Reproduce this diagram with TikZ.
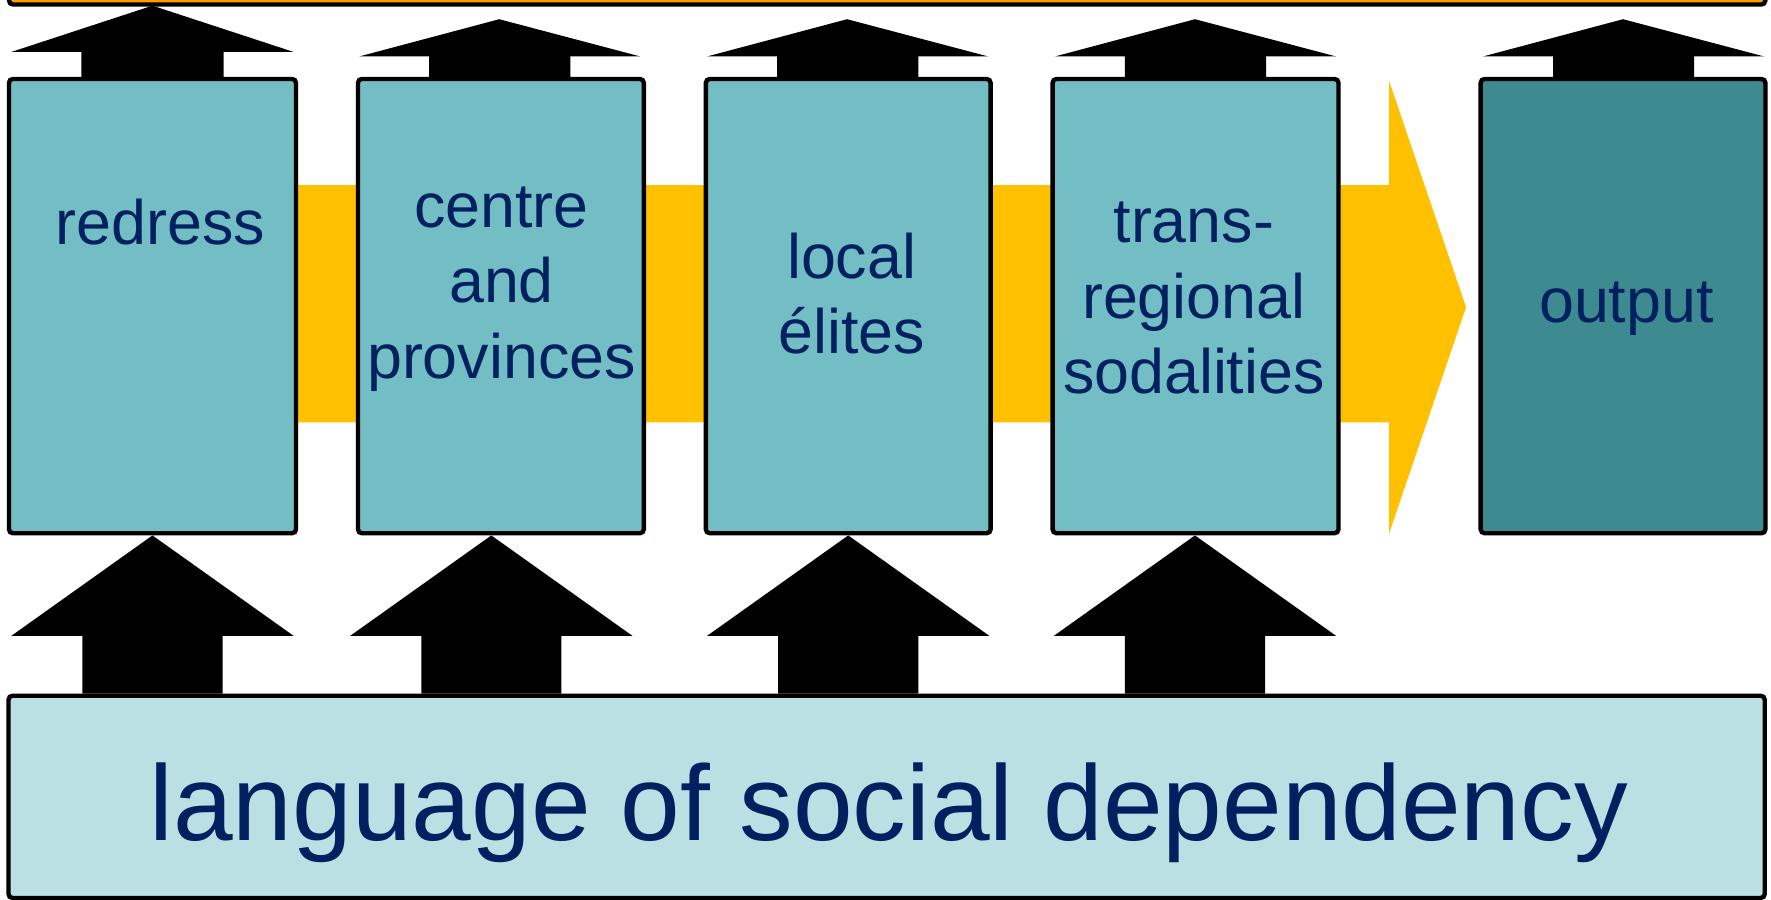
\documentclass[tikz,border=0pt]{standalone}
\usepackage{fontspec}
\setmainfont{Liberation Sans}
\definecolor{boxteal}{HTML}{73BEC5}
\definecolor{outteal}{HTML}{3E8A91}
\definecolor{basefill}{HTML}{BAE0E3}
\definecolor{bandorange}{HTML}{FFC000}
\definecolor{topbar}{HTML}{FF9900}
\definecolor{navy}{HTML}{002060}
\begin{document}
\begin{tikzpicture}[x=0.01cm,y=-0.01cm,
  stage/.style={draw=black,line width=1.1pt,rounded corners=1pt,fill=boxteal,minimum height=4.02cm,inner sep=0pt},
  lab/.style={text=navy,font=\fontsize{15.8pt}{19pt}\selectfont,align=center,inner sep=0pt},
  blockarrow/.style={fill=black,draw=none}]
\useasboundingbox (0,0) rectangle (1568,796);
% top bar (cut off)
\draw[fill=topbar,draw=black,line width=1.1pt,rounded corners=1pt] (8,-30) rectangle (1563,4);
% orange band arrow
\fill[bandorange] (262,164) -- (1230,164) -- (1230,72) -- (1298,272) -- (1230,472) -- (1230,374) -- (262,374) -- cycle;
% boxes
\node[stage,minimum width=2.54cm] (b1) at (135,271) {};
\node[stage,minimum width=2.53cm] (b2) at (443.5,271) {};
\node[stage,minimum width=2.52cm] (b3) at (751,271) {};
\node[stage,minimum width=2.53cm] (b4) at (1058.5,271) {};
\node[stage,minimum width=2.52cm,fill=outteal] (b5) at (1437,271) {};
\node[draw=black,line width=1.1pt,rounded corners=1pt,fill=basefill,minimum width=15.54cm,minimum height=1.79cm,inner sep=0pt] (base) at (785,705.5) {};
% labels
\node[lab] (t1) at (142,197) {redress};
\node[lab] (t2) at (444,256) {centre\\and\\provinces};
\node[lab] (t3) at (754,260) {local\\élites};
\node[lab] (t4) at (1057,264) {trans-\\regional\\sodalities};
\node[lab] (t5) at (1440,273) {output};
\node[text=navy,font=\fontsize{27pt}{32pt}\selectfont,inner sep=0pt] (tb) at (787,720) {language of social dependency};
% top arrows
\fill[blockarrow] (b1.north -| 72,0) -- (72,46) -- (10,46) -- (135,5) -- (260,46) -- (198,46) -- (b1.north -| 198,0) -- cycle;
\foreach \c/\n in {442/b2,750/b3,1058/b4,1437/b5}{
  \fill[blockarrow] (\n.north -| \c-62,0) -- (\c-62,50) -- (\c-124,50) -- (\c,17) -- (\c+125,50) -- (\c+63,50) -- (\n.north -| \c+63,0) -- cycle;
}
% bottom arrows
\foreach \c/\n in {135/b1,435/b2,751/b3,1058/b4}{
  \fill[blockarrow] (base.north -| \c-62,0) -- (\c-62,563) -- (\c-125,563) -- (\n.south -| \c,0) -- (\c+125,563) -- (\c+62,563) -- (base.north -| \c+62,0) -- cycle;
}
\end{tikzpicture}
\end{document}
